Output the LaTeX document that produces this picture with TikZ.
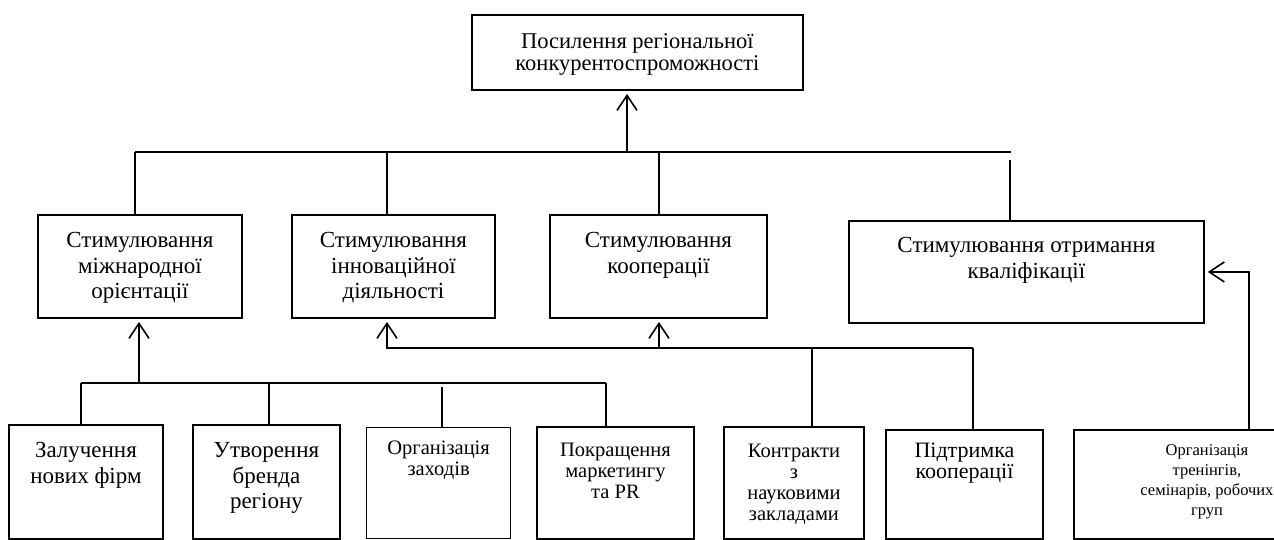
\documentclass[tikz,border=0pt]{standalone}
\usepackage{fontspec}
\setmainfont{Liberation Serif}
\usetikzlibrary{arrows.meta}
\def\boxtext(#1:#2:#3)#4{\parbox[t][#2pt][t]{#1pt}{\centering\vspace*{#3pt}\strut#4}}
\def\toptext{\fontsize{22.5}{22}\selectfont}
\def\bigtext{\fontsize{23}{25.5}\selectfont}
\def\midtext{\fontsize{20.5}{21}\selectfont}
\def\widetext{\fontsize{22}{21}\selectfont}
\def\smalltext{\fontsize{16.5}{20}\selectfont}

\begin{document}
\begin{tikzpicture}[x=1pt, y=-1pt,
	box/.style={draw, line width=1.9pt, inner sep=0pt, anchor=north west},
	thinbox/.style={box, line width=1.2pt},
	link/.style={line width=1.6pt},
	arr/.style={link, shorten >=3pt, -{Straight Barb[length=15pt, width=20pt]}}]
			%%%%% START %%%%%
			\clip (0,0) rectangle (1274,539);
			
			\node[box, font=\toptext] (goal) at (471,14) {\boxtext(331:75:18.6){Посилення регіональної\\конкурентоспроможності}};
			
			\node[box, font=\bigtext] (intl) at (37,214) {\boxtext(204:103:15){Стимулювання\\міжнародної\\орієнтації}};
			\node[box, font=\bigtext] (innov) at (291,214) {\boxtext(203:103:15){Стимулювання\\інноваційної\\діяльності}};
			\node[box, font=\bigtext] (coop) at (549,214) {\boxtext(217:103:15){Стимулювання\\кооперації}};
			\node[box, font=\bigtext] (qual) at (848,220) {\boxtext(355:102:14){Стимулювання отримання\\кваліфікації}};
			
			\node[box, font=\bigtext] (firms) at (8,424) {\boxtext(154:114:15){Залучення\\нових фірм}};
			\node[box, font=\bigtext] (brand) at (192,424) {\boxtext(147:114:15){Утворення\\бренда\\регіону}};
			\node[thinbox, font=\midtext] (events) at (366,427) {\boxtext(144:111:12.6){Організація\\заходів}};
			\node[box, font=\midtext] (market) at (536,426) {\boxtext(157:112:15.3){Покращення\\маркетингу\\та PR}};
			\node[box, font=\midtext] (science) at (723,426) {\boxtext(140:112:15.5){Контракти\\з\\науковими\\закладами}};
			\node[box, font=\widetext] (support) at (885,429) {\boxtext(157:109:13.3){Підтримка\\кооперації}};
			\node[box, font=\smalltext] (train) at (1073,429) {\boxtext(266:109:12){Організація\\тренінгів,\\семінарів, робочих\\груп}};
			
			% upper level
			\coordinate (busL) at (135,152);
			\coordinate (busR) at (1011,152);
			\coordinate (busUp) at (627,152);
			\coordinate (dInnov) at (387,152);
			\coordinate (dCoop) at (659,152);
			\coordinate (dQual) at (1010,160);
			\draw[link] (busL) -- (busR);
			\draw[arr] (busUp) -- (busUp |- goal.south);
			\draw[link] (busL) -- (busL |- intl.north);
			\draw[link] (dInnov) -- (dInnov |- innov.north);
			\draw[link] (dCoop) -- (dCoop |- coop.north);
			\draw[link] (dQual) -- (dQual |- qual.north);
			
			% left group
			\coordinate (leftL) at (81,383);
			\coordinate (leftR) at (606,383);
			\coordinate (leftUp) at (139,383);
			\coordinate (dBrand) at (269,383);
			\coordinate (dEvents) at (442,387);
			\draw[link] (leftL) -- (leftR);
			\draw[arr] (leftUp) -- (leftUp |- intl.south);
			\draw[link] (leftL) -- (leftL |- firms.north);
			\draw[link] (dBrand) -- (dBrand |- brand.north);
			\draw[link] (dEvents) -- (dEvents |- events.north);
			\draw[link] (leftR) -- (leftR |- market.north);
			
			% middle group
			\coordinate (midL) at (387,348);
			\coordinate (midR) at (973,348);
			\coordinate (midUp) at (659,348);
			\coordinate (dScience) at (812,348);
			\draw[arr] (midR) -- (midL) -- (midL |- innov.south);
			\draw[arr] (midUp) -- (midUp |- coop.south);
			\draw[link] (dScience) -- (dScience |- science.north);
			\draw[link] (midR) -- (midR |- support.north);
			
			% right
			\coordinate (rightUp) at (1249,300);
			\draw[arr] (rightUp |- train.north) |- (qual.east);
			%%%%% END %%%%%
\end{tikzpicture}
\end{document}
